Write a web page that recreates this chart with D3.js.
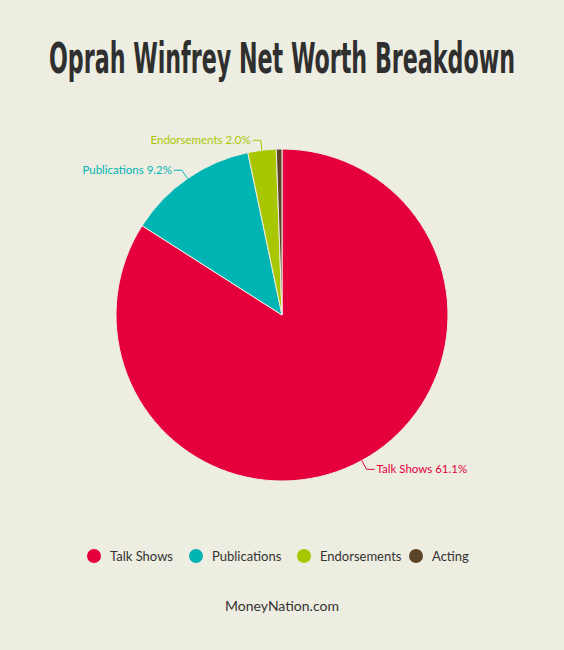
<!DOCTYPE html>
<html><head><meta charset="utf-8">
<script src="https://cdn.jsdelivr.net/npm/d3@7"></script>
<style>body{margin:0;background:#eeede1;}</style>
</head><body><svg id="chart"></svg>
<script>
const categories = ['Talk Shows', 'Publications', 'Endorsements', 'Acting'];
const values = [61.1, 9.2, 2.0, 0.4];
const labels = ['Talk Shows 61.1%', 'Publications 9.2%', 'Endorsements 2.0%', null];
const colors = ['#e5003d', '#00b4b4', '#a9c700', '#5b4426'];

const width = 564, height = 650;
const cx = 282, cy = 315, r = 166;

const svg = d3.select('#chart').attr('width', width).attr('height', height)
  .style('font-family', 'Lato, "Open Sans", sans-serif');
svg.append('rect').attr('width', width).attr('height', height).attr('fill', '#eeede1');

svg.append('text').attr('x', width / 2).attr('y', 73).attr('text-anchor', 'middle')
  .style('font-family', '"Liberation Sans Narrow", "DejaVu Sans Condensed", sans-serif')
  .style('font-weight', 'bold').style('font-size', '42px').attr('fill', '#2f2f2f')
  .attr('textLength', 466).attr('lengthAdjust', 'spacingAndGlyphs')
  .text('Oprah Winfrey Net Worth Breakdown');

const data = categories.map((c, i) => ({ c, v: values[i], label: labels[i], color: colors[i] }));
const pie = d3.pie().value(d => d.v).sort(null);
const arcs = pie(data);
const arc = d3.arc().innerRadius(0).outerRadius(r);

const g = svg.append('g').attr('transform', `translate(${cx},${cy})`);
g.selectAll('path').data(arcs).join('path')
  .attr('d', arc).attr('fill', d => d.data.color)
  .attr('stroke', '#eeede1').attr('stroke-width', 1);

// callout labels
arcs.forEach(a => {
  if (!a.data.label) return;
  const mid = (a.startAngle + a.endAngle) / 2;
  const p0 = [Math.sin(mid) * r, -Math.cos(mid) * r];
  const p1 = [Math.sin(mid) * (r + 10), -Math.cos(mid) * (r + 10)];
  const right = Math.sin(mid) > 0;
  const p2 = [p1[0] + (right ? 8 : -8), p1[1]];
  g.append('polyline').attr('points', [p0, p1, p2].map(p => p.join(',')).join(' '))
    .attr('fill', 'none').attr('stroke', a.data.color).attr('stroke-width', 1);
  g.append('text').attr('x', p2[0] + (right ? 2 : -2)).attr('y', p2[1])
    .attr('dy', '0.35em').attr('text-anchor', right ? 'start' : 'end')
    .attr('fill', a.data.color).style('font-size', '11.5px').text(a.data.label);
});

// legend
const legendX = [94, 196, 304, 416];
const lg = svg.append('g').attr('transform', 'translate(0,556)');
data.forEach((d, i) => {
  lg.append('circle').attr('cx', legendX[i]).attr('cy', 0).attr('r', 7).attr('fill', d.color);
  lg.append('text').attr('x', legendX[i] + 16).attr('y', 0).attr('dy', '0.35em')
    .attr('fill', '#333').style('font-size', '13px').text(d.c);
});

svg.append('text').attr('x', width / 2).attr('y', 611).attr('text-anchor', 'middle')
  .attr('fill', '#333').style('font-size', '14px').text('MoneyNation.com');
</script></body></html>
